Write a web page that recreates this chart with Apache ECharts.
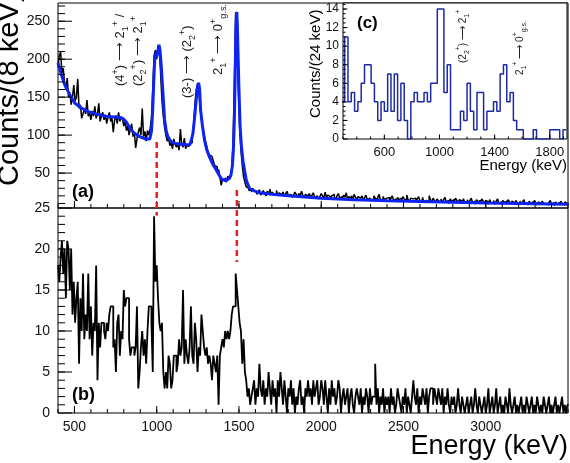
<!DOCTYPE html>
<html>
<head>
<meta charset="utf-8">
<script src="https://cdn.jsdelivr.net/npm/echarts@6/dist/echarts.min.js"></script>
<style>
html, body { margin: 0; padding: 0; background: #fff; }
#chart { width: 570px; height: 463px; }
</style>
</head>
<body>
<div id="chart"></div>
<script>
// panels (a) and (b): 8 keV bins, left edges from 400 keV
const binStart = 400;
const binWidth = 8;

const countsA = [
  190, 205, 209, 182, 188, 168, 160, 175, 150, 156,
  140, 150, 166, 145, 150, 174, 135, 140, 122, 128,
  135, 128, 146, 125, 130, 120, 132, 125, 138, 122,
  128, 142, 118, 125, 130, 120, 127, 115, 124, 130,
  118, 122, 104, 120, 126, 115, 130, 118, 124, 121,
  112, 118, 106, 112, 100, 108, 115, 98, 104, 83,
  95, 104, 110, 100, 135, 98, 105, 92, 106, 100,
  108, 122, 160, 205, 212, 200, 218, 215, 180, 145,
  125, 110, 100, 92, 96, 86, 90, 82, 95, 88,
  84, 90, 80, 108, 88, 84, 96, 82, 88, 85,
  88, 90, 98, 112, 140, 160, 168, 158, 135, 120,
  112, 100, 92, 85, 78, 74, 72, 70, 66, 60,
  58, 52, 55, 45, 34, 42, 40, 44, 38, 46,
  42, 45, 55, 90, 170, 262, 235, 160, 110, 80,
  60, 45, 38, 32, 30, 27, 28, 25, 30, 26,
  26, 22, 25, 28, 21, 24, 27, 23, 20, 26, 24, 29, 22, 25, 21, 23, 27, 20, 24, 22,
  21, 25, 19, 23, 26, 20, 22, 24, 18, 21, 25, 22, 19, 23, 20, 26, 21, 18, 22, 20,
  19, 23, 17, 21, 24, 18, 20, 22, 16, 19, 23, 20, 17, 25, 18, 21, 19, 16, 20, 22,
  18, 15, 20, 23, 17, 19, 16, 21, 18, 24, 15, 19, 17, 20, 16, 22, 18, 15, 19, 17,
  16, 20, 14, 18, 21, 15, 17, 19, 14, 16, 20, 17, 15, 18, 22, 14, 16, 19, 15, 17,
  15, 18, 13, 17, 20, 14, 16, 12, 18, 15, 17, 13, 19, 16, 14, 21, 15, 12, 17, 16,
  14, 17, 12, 16, 19, 13, 15, 18, 12, 14, 16, 13, 20, 15, 12, 17, 14, 11, 16, 13,
  13, 16, 11, 15, 18, 12, 14, 10, 16, 13, 15, 12, 17, 14, 11, 15, 13, 10, 16, 12,
  12, 15, 10, 14, 17, 11, 13, 9, 15, 12, 14, 11, 16, 13, 10, 14, 12, 9, 15, 11,
  11, 14, 9, 13, 16, 10, 12, 9, 14, 11, 13, 10, 15, 12, 9, 13, 11, 8, 14, 10,
  10, 13, 9, 12, 15, 9, 11, 8, 13, 10, 12, 9, 14, 11, 8, 12, 10, 8, 13, 9,
  10, 12, 8, 11, 14, 9, 11, 7, 12, 9, 11, 8, 13, 10, 8, 12, 10, 9
];

const countsB = [
  18, 16, 19, 21, 17, 20, 14, 21, 20, 15,
  20, 12, 16, 11, 14, 16, 6, 14, 10, 17,
  9, 12, 10, 17, 9, 13, 7, 11, 10, 18,
  4, 11, 8, 11, 11, 10, 9, 11, 10, 12,
  13, 13, 8, 9, 5, 11, 12, 7, 10, 9,
  15, 13, 14, 14, 9, 7, 8, 8, 7, 8,
  13, 3, 5, 8, 10, 7, 9, 6, 10, 13,
  13, 11, 5, 24, 16, 18, 14, 11, 10, 11,
  5, 3, 5, 3, 7, 6, 3, 4, 7, 7,
  5, 6, 9, 7, 8, 15, 6, 9, 7, 6,
  8, 13, 7, 6, 11, 9, 5, 8, 7, 12,
  10, 8, 7, 8, 6, 7, 6, 4, 7, 6,
  5, 7, 1, 7, 8, 9, 8, 10, 9, 10,
  9, 10, 12, 13, 13, 17, 15, 13, 11, 10,
  6, 9, 5, 4, 2, 3, 1, 2, 3, 4,
  1, 3, 2, 6, 3, 2, 4, 1, 3, 2, 5, 3, 1, 4, 2, 3, 0, 4, 2, 5,
  3, 1, 4, 2, 0, 3, 2, 4, 1, 3, 0, 2, 1, 3, 4, 1, 2, 0, 3, 2,
  4, 2, 3, 1, 4, 2, 3, 4, 1, 2, 4, 3, 1, 4, 2, 0, 3, 1, 4, 2,
  3, 1, 2, 4, 3, 0, 2, 3, 1, 2, 3, 0, 2, 3, 1, 0, 2, 3, 2, 1,
  3, 0, 2, 1, 3, 2, 0, 3, 1, 2, 2, 6, 1, 3, 0, 2, 1, 3, 0, 2,
  1, 2, 0, 3, 1, 2, 0, 1, 3, 2, 1, 0, 2, 1, 3, 0, 2, 1, 0, 2,
  4, 2, 1, 3, 0, 2, 1, 3, 2, 1, 3, 0, 2, 3, 3, 1, 3, 2, 1, 3,
  2, 1, 3, 0, 2, 1, 3, 1, 0, 2, 1, 2, 0, 1, 3, 1, 0, 2, 1, 0,
  1, 2, 0, 1, 2, 0, 1, 3, 1, 0, 2, 1, 0, 1, 2, 0, 1, 3, 0, 1,
  2, 0, 1, 3, 0, 1, 2, 0, 1, 0, 2, 1, 0, 3, 1, 0, 1, 2, 0, 1,
  0, 1, 2, 0, 1, 0, 2, 1, 0, 1, 2, 0, 1, 0, 2, 1, 0, 1, 0, 2,
  1, 0, 1, 2, 0, 1, 0, 1, 2, 0, 1, 0, 1, 2, 0, 1, 0, 1
];

// fitted curve in panel (a)
const fitE = [400, 420, 440, 463, 480, 503, 540, 584, 630, 685, 740, 786, 800, 816, 835, 857, 880, 897, 930, 958,
  968, 975, 982, 988, 994, 1000, 1007, 1014, 1020, 1028, 1038, 1048, 1058, 1068, 1085, 1109, 1150, 1200, 1210, 1220,
  1230, 1240, 1248, 1255, 1261, 1267, 1278, 1291, 1305, 1321, 1340, 1362, 1380, 1392, 1405, 1418, 1430, 1442, 1452, 1460,
  1466, 1472, 1477, 1481, 1484, 1487, 1490, 1494, 1500, 1507, 1515, 1525, 1533, 1545, 1564, 1590, 1624, 1700, 1800, 1900,
  2000, 2200, 2400, 2600, 2800, 3000, 3200, 3500];
const fitY = [195, 180, 167, 157, 150, 142, 136, 131, 128, 125, 124, 123, 121, 117, 110, 104, 100, 98, 95, 95,
  105, 130, 170, 200, 208, 203, 210, 219, 212, 190, 155, 120, 105, 98, 92, 89, 88, 87, 93, 102,
  122, 146, 162, 169, 160, 133, 112, 93, 80, 71, 62, 54, 47, 43, 41, 40, 40, 43, 48, 60,
  80, 120, 180, 235, 258, 262, 245, 210, 160, 111, 85, 65, 55, 40, 30, 27, 24, 22, 20, 18.5,
  17, 15, 13.5, 12.5, 11.5, 10.5, 10, 9];

// inset (c): 24 keV bins, left edges from 288 keV
const insetStart = 288;
const insetWidth = 24;
const countsC = [
  4, 11, 4, 5, 3, 4, 6, 8, 8, 6,
  4, 2, 4, 3, 7, 3, 7, 2, 6, 2,
  0, 4, 5, 4, 4, 5, 4, 6, 6, 14,
  14, 5, 8, 1, 1, 1, 3, 2, 6, 3,
  1, 5, 5, 1, 3, 3, 4, 3, 7, 8,
  4, 5, 2, 1, 1, 0, 0, 0, 1, 0,
  0, 0, 0, 1, 1, 1, 0, 1
];

// tick labels
const xMajor = [500, 1000, 1500, 2000, 2500, 3000];
const yMajorA = [50, 100, 150, 200, 250];
const yMajorB = [0, 5, 10, 15, 20, 25];
const xMajorC = [600, 1000, 1400, 1800];
const yMajorC = [0, 2, 4, 6, 8, 10, 12, 14];

// dashed guide lines (energy, top in panel a, bottom in panel b)
const markE = [1000, 1487];
const markTopA = [91, 27.6];
const markBottomB = [24.1, 18.4];

function range(from, to, step) {
  const out = [];
  for (let v = from; v <= to + 1e-9; v += step) out.push(+v.toFixed(3));
  return out;
}

function toSteps(start, width, counts) {
  const pts = counts.map((c, i) => [start + i * width, c]);
  pts.push([start + counts.length * width, counts[counts.length - 1]]);
  return pts;
}

const FONT = 'Liberation Sans, Arial, sans-serif';
const chart = echarts.init(document.getElementById('chart'), null, { renderer: 'canvas' });
const plain = function (v) { return String(v); };

// panel boxes [left, top, width, height] and ranges [xMin, xMax, yMin, yMax]
const boxes = [
  [58, 3, 510, 205],
  [58, 208, 510, 205],
  [343, 3, 224, 136]
];
const ranges = [
  [400, 3500, 4, 274],
  [400, 3500, 0, 25],
  [300, 1925, 0, 14.65]
];

function gridFor(g, extra) {
  return Object.assign({
    left: boxes[g][0], top: boxes[g][1], width: boxes[g][2], height: boxes[g][3],
    show: true, borderColor: '#000', borderWidth: 1
  }, extra || {});
}

function xAxisFor(g, major, showLabel, fontSize) {
  return {
    type: 'value', gridIndex: g, min: ranges[g][0], max: ranges[g][1],
    axisLine: { show: false }, splitLine: { show: false }, axisTick: { show: false },
    axisLabel: { show: showLabel, customValues: major, formatter: plain, fontSize: fontSize, fontFamily: FONT, color: '#111', margin: 7 }
  };
}

function yAxisFor(g, major, fontSize, margin) {
  return {
    type: 'value', gridIndex: g, min: ranges[g][2], max: ranges[g][3],
    axisLine: { show: false }, splitLine: { show: false }, axisTick: { show: false },
    axisLabel: { show: true, customValues: major, formatter: plain, fontSize: fontSize, fontFamily: FONT, color: '#111', margin: margin }
  };
}

// inward ticks as broken line series on the panel's own axes; len in pixels
function tickSeries(g, dir, values, len) {
  const r = ranges[g];
  const data = [];
  values.forEach(function (v) {
    if (dir === 'x') {
      const dy = len * (r[3] - r[2]) / boxes[g][3];
      data.push([v, r[2]], [v, r[2] + dy], [v, null]);
    } else {
      const dx = len * (r[1] - r[0]) / boxes[g][2];
      data.push([r[0], v], [r[0] + dx, v], [null, v]);
    }
  });
  return {
    type: 'line', xAxisIndex: g, yAxisIndex: g, symbol: 'none', connectNulls: false,
    clip: false, silent: true, z: 6, data: data,
    lineStyle: { color: '#000', width: 1 }
  };
}

const option = {
  animation: false,
  backgroundColor: '#fff',
  grid: [gridFor(0), gridFor(1), gridFor(2, { backgroundColor: '#fff' })],
  xAxis: [
    xAxisFor(0, xMajor, false, 14),
    xAxisFor(1, xMajor, true, 14),
    xAxisFor(2, xMajorC, true, 13)
  ],
  yAxis: [
    yAxisFor(0, yMajorA, 14, 8),
    yAxisFor(1, yMajorB, 14, 8),
    yAxisFor(2, yMajorC, 12, 4)
  ],
  series: [
    {
      name: 'a', type: 'line', xAxisIndex: 0, yAxisIndex: 0, step: 'end', symbol: 'none',
      data: toSteps(binStart, binWidth, countsA), lineStyle: { color: '#000', width: 1.5 }, z: 2
    },
    {
      name: 'fit', type: 'line', xAxisIndex: 0, yAxisIndex: 0, symbol: 'none',
      data: fitE.map((e, i) => [e, fitY[i]]), lineStyle: { color: '#0d24f5', width: 3 }, z: 3
    },
    {
      name: 'b', type: 'line', xAxisIndex: 1, yAxisIndex: 1, step: 'end', symbol: 'none',
      data: toSteps(binStart, binWidth, countsB), lineStyle: { color: '#000', width: 1.8 }, z: 2
    },
    {
      name: 'c', type: 'line', xAxisIndex: 2, yAxisIndex: 2, step: 'end', symbol: 'none',
      data: toSteps(insetStart, insetWidth, countsC), lineStyle: { color: '#1c2aa6', width: 1.5 }, z: 5
    },
    tickSeries(0, 'x', range(400, 3500, 100), 4),
    tickSeries(0, 'x', xMajor, 7),
    tickSeries(0, 'y', range(10, 270, 10), 7),
    tickSeries(0, 'y', yMajorA, 14),
    tickSeries(1, 'x', range(400, 3500, 100), 4),
    tickSeries(1, 'x', xMajor, 7),
    tickSeries(1, 'y', range(1, 24, 1), 7),
    tickSeries(1, 'y', yMajorB, 14),
    tickSeries(2, 'x', range(300, 1900, 100), 2.5),
    tickSeries(2, 'x', xMajorC, 4.5),
    tickSeries(2, 'y', range(0.5, 14.5, 0.5), 2.5),
    tickSeries(2, 'y', yMajorC, 4.5)
  ]
};

chart.setOption(option);

// rotated labels with sub/superscripts
const rich = function (size) {
  return {
    t: { fontSize: size, fontFamily: FONT, fill: '#222', lineHeight: size + 6 },
    u: { fontSize: size * 0.7, fontFamily: FONT, fill: '#222', verticalAlign: 'top', lineHeight: size + 6 },
    d: { fontSize: size * 0.7, fontFamily: FONT, fill: '#222', verticalAlign: 'bottom', lineHeight: size + 6 }
  };
};

function annot(x, y, text, size) {
  return {
    type: 'text', x: x, y: y, rotation: Math.PI / 2, z: 100,
    style: { text: text, rich: rich(size), align: 'left', verticalAlign: 'middle', fill: '#222' }
  };
}

function plainText(x, y, text, font, align, rot) {
  return {
    type: 'text', x: x, y: y, rotation: rot || 0, z: 100,
    style: { text: text, font: font, fill: '#000', align: align, verticalAlign: 'middle' }
  };
}

const graphics = [
  plainText(10, 186, 'Counts/(8 keV)', '29px ' + FONT, 'left', Math.PI / 2),
  plainText(568, 447, 'Energy (keV)', '27px ' + FONT, 'right'),
  plainText(316, 118, 'Counts/(24 keV)', '15px ' + FONT, 'left', Math.PI / 2),
  plainText(567, 166, 'Energy (keV)', '15px ' + FONT, 'right'),
  plainText(72, 192, '(a)', 'bold 18px ' + FONT, 'left'),
  plainText(72, 395, '(b)', 'bold 18px ' + FONT, 'left'),
  plainText(357, 23, '(c)', 'bold 17px ' + FONT, 'left'),
  annot(120, 86, '{t|(4}{u|+}{t|) ⟶ 2}{d|1}{u|+}{t| /}', 13),
  annot(138, 86, '{t|(2}{d|2}{u|+}{t|) ⟶ 2}{d|1}{u|+}', 13),
  annot(187, 98, '{t|(3-) ⟶ (2}{d|2}{u|+}{t|)}', 13),
  annot(218, 75, '{t|2}{d|1}{u|+}{t| ⟶ 0}{u|+}{d|g.s.}', 13),
  annot(463, 63, '{t|(2}{d|2}{u|+}{t|) ⟶ 2}{d|1}{u|+}', 10),
  annot(520, 75, '{t|2}{d|1}{u|+}{t| ⟶ 0}{u|+}{d|g.s.}', 10)
];

markE.forEach(function (e, i) {
  const p1 = chart.convertToPixel({ seriesIndex: 0 }, [e, markTopA[i]]);
  const p2 = chart.convertToPixel({ seriesIndex: 2 }, [e, markBottomB[i]]);
  graphics.push({
    type: 'line', z: 90,
    shape: { x1: p1[0], y1: p1[1], x2: p2[0], y2: p2[1] },
    style: { stroke: '#ee1c1c', lineWidth: 2.5, lineDash: [6, 4] }
  });
});

chart.setOption({ graphic: graphics });

window.addEventListener('resize', function () {
  chart.resize();
});
</script>
</body>
</html>
